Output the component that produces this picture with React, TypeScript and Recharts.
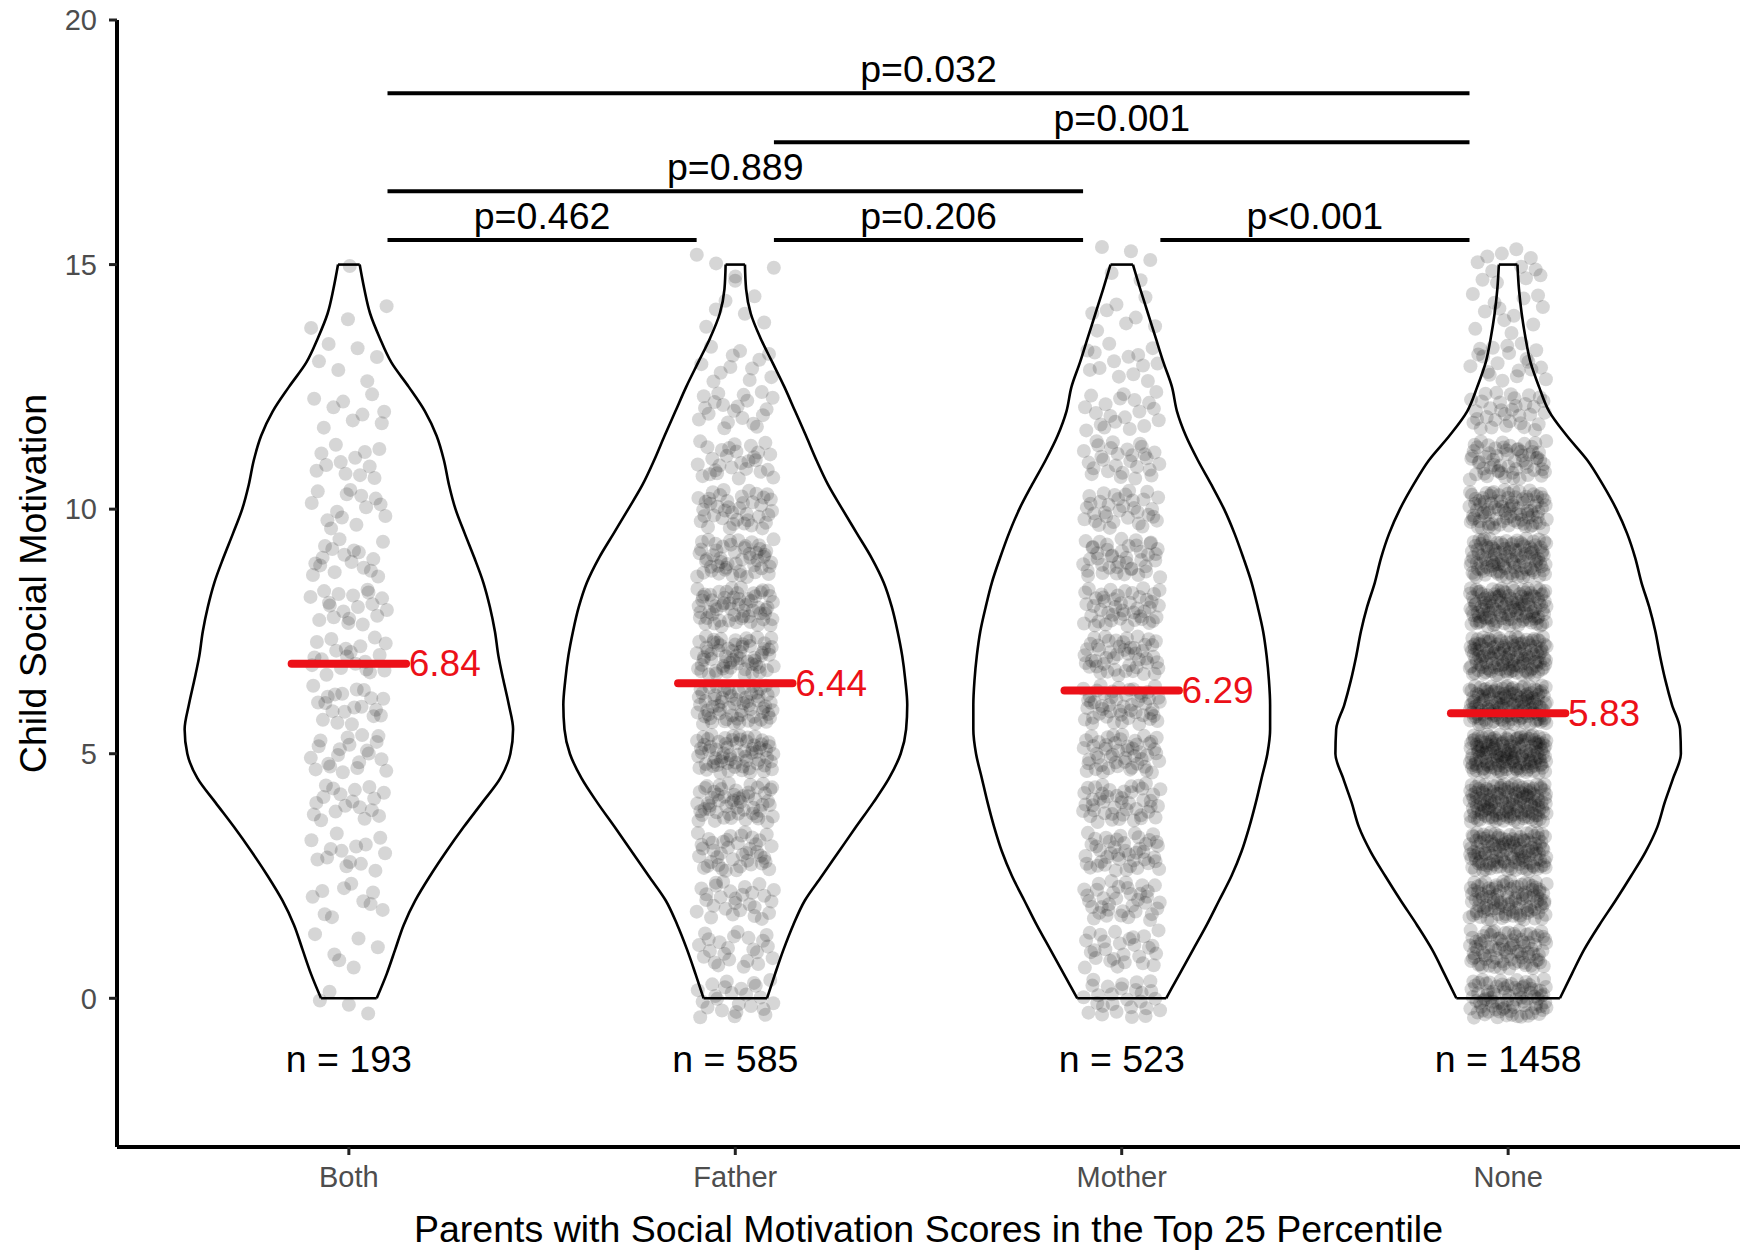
import React from "react";
import { ComposedChart, Scatter, XAxis, YAxis, Label } from "recharts";

// ── Groups ─────────────────────────────────────────────────────────────────────
const CATEGORIES = ["Both", "Father", "Mother", "None"];
const GROUP_N = [193, 585, 523, 1458];
const GROUP_MEANS = [6.84, 6.44, 6.29, 5.83];

// ── Child social motivation scores (0–15), number of children per score ───────
const SCORES = [0, 1, 2, 3, 4, 5, 6, 7, 8, 9, 10, 11, 12, 13, 14, 15];
const COUNTS_BOTH = [4, 6, 10, 14, 18, 20, 20, 20, 19, 17, 14, 12, 9, 6, 3, 1];
const COUNTS_FATHER = [24, 23, 28, 41, 55, 66, 65, 63, 59, 50, 40, 28, 20, 12, 6, 5];
const COUNTS_MOTHER = [27, 27, 36, 43, 45, 50, 50, 49, 46, 42, 33, 28, 20, 14, 8, 5];
const COUNTS_NONE = [84, 87, 104, 127, 144, 159, 148, 137, 127, 114, 90, 60, 33, 20, 12, 12];

// ── Violin outlines: half width (in category units) at each score level ───────
const VIOLIN_LEVELS = [
  0, 0.5, 1, 1.5, 2, 2.5, 3, 3.5, 4, 4.5, 5, 5.5, 6, 6.5, 7, 7.5, 8, 8.5, 9, 9.5,
  10, 10.5, 11, 11.5, 12, 12.5, 13, 13.5, 14, 14.5, 15,
];
const VIOLIN_BOTH = [
  0.072, 0.098, 0.12, 0.142, 0.172, 0.21, 0.252, 0.297, 0.345, 0.392, 0.418, 0.425,
  0.414, 0.4, 0.387, 0.378, 0.365, 0.348, 0.325, 0.3, 0.276, 0.259, 0.246, 0.227,
  0.197, 0.155, 0.11, 0.08, 0.055, 0.04, 0.028,
];
const VIOLIN_FATHER = [
  0.082, 0.103, 0.125, 0.15, 0.18, 0.224, 0.268, 0.312, 0.357, 0.398, 0.428, 0.442,
  0.445, 0.44, 0.432, 0.42, 0.405, 0.384, 0.353, 0.315, 0.277, 0.24, 0.21, 0.183,
  0.155, 0.127, 0.096, 0.065, 0.04, 0.028, 0.025,
];
const VIOLIN_MOTHER = [
  0.115, 0.15, 0.185, 0.22, 0.252, 0.284, 0.31, 0.33, 0.347, 0.362, 0.377, 0.384,
  0.384, 0.381, 0.375, 0.366, 0.352, 0.336, 0.315, 0.292, 0.265, 0.232, 0.197,
  0.166, 0.143, 0.13, 0.108, 0.088, 0.068, 0.048, 0.029,
];
const VIOLIN_NONE = [
  0.134, 0.165, 0.197, 0.236, 0.278, 0.318, 0.356, 0.386, 0.405, 0.427, 0.447,
  0.445, 0.424, 0.407, 0.393, 0.381, 0.365, 0.345, 0.329, 0.308, 0.28, 0.245, 0.205,
  0.152, 0.106, 0.08, 0.058, 0.045, 0.035, 0.028, 0.024,
];

// ── Pairwise comparisons ───────────────────────────────────────────────────────
const BRACKET_FROM = [1, 2, 3, 1, 2, 1];
const BRACKET_TO = [2, 3, 4, 3, 4, 4];
const BRACKET_Y = [15.5, 15.5, 15.5, 16.5, 17.5, 18.5];
const BRACKET_LABELS = ["p=0.462", "p=0.206", "p<0.001", "p=0.889", "p=0.001", "p=0.032"];

const Y_TICKS = [0, 5, 10, 15, 20];
const X_TICKS = [1, 2, 3, 4];

const COUNTS = [COUNTS_BOTH, COUNTS_FATHER, COUNTS_MOTHER, COUNTS_NONE];
const VIOLINS = [VIOLIN_BOTH, VIOLIN_FATHER, VIOLIN_MOTHER, VIOLIN_NONE];

const FONT = "'Liberation Sans', Arial, Helvetica, sans-serif";
const RED = "#ec1018";
const N_LABEL_Y = -1.25;
const MEAN_HALF = 0.148;
const BRACKET_INSET = 0.1;
const JITTER_W = 0.1;
const JITTER_H = 0.4;

// radical inverse, used for a deterministic (Halton) jitter layout
function halton(i: number, base: number) {
  let f = 1;
  let r = 0;
  while (i > 0) {
    f /= base;
    r += f * (i % base);
    i = Math.floor(i / base);
  }
  return r;
}

// spread each score's children around the integer value, like geom_jitter
function jitterCloud(g: number, counts: number[]) {
  const pts: { x: number; y: number }[] = [];
  let idx = 1 + g * 3001;
  counts.forEach((c, si) => {
    for (let k = 0; k < c; k++, idx++) {
      const u = halton(idx, 2);
      const w = halton(idx, 3);
      pts.push({ x: g + 1 + (2 * u - 1) * JITTER_W, y: SCORES[si] + (2 * w - 1) * JITTER_H });
    }
  });
  return pts;
}

function violinSide(g: number, widths: number[], sign: number) {
  return VIOLIN_LEVELS.map((lv, i) => ({ x: g + 1 + sign * widths[i], y: lv }));
}

function violinEdge(g: number, widths: number[], idx: number) {
  const lv = VIOLIN_LEVELS[idx];
  return [
    { x: g + 1 - widths[idx], y: lv },
    { x: g + 1 + widths[idx], y: lv },
  ];
}

const NoDot = () => <g />;
const JitterDot = (p: any) => (
  <circle cx={p.cx} cy={p.cy} r={7} fill="#000" fillOpacity={0.16} />
);
const MeanText = (p: any) => (
  <text x={p.cx} y={p.cy} dominantBaseline="central" fontSize={37} fontFamily={FONT} fill={RED}>
    {p.payload.label}
  </text>
);
const PText = (p: any) => (
  <text x={p.cx} y={p.cy - 11} textAnchor="middle" fontSize={37.5} fontFamily={FONT} fill="#000">
    {p.payload.label}
  </text>
);
const NText = (p: any) => (
  <text x={p.cx} y={p.cy} textAnchor="middle" dominantBaseline="central" fontSize={37.5} fontFamily={FONT} fill="#000">
    {p.payload.label}
  </text>
);

export default function App() {
  const line = { stroke: "#000", strokeWidth: 2.6 };

  const meanLabels = GROUP_MEANS.map((m, g) => ({
    x: g + 1 + MEAN_HALF + 0.007,
    y: m,
    label: m.toFixed(2),
  }));
  const pLabels = BRACKET_LABELS.map((label, i) => ({
    x: (BRACKET_FROM[i] + BRACKET_TO[i]) / 2,
    y: BRACKET_Y[i],
    label,
  }));
  const nLabels = GROUP_N.map((n, g) => ({ x: g + 1, y: N_LABEL_Y, label: `n = ${n}` }));

  return (
    <div style={{ position: "absolute", left: 0, top: 0, background: "#fff", fontFamily: FONT }}>
      <ComposedChart width={1753} height={1256} margin={{ top: 20, right: 13, bottom: 9, left: 0 }}>
        <XAxis
          type="number"
          dataKey="x"
          domain={[0.4, 4.6]}
          ticks={X_TICKS}
          allowDataOverflow
          interval={0}
          tickFormatter={(v: number) => CATEGORIES[v - 1]}
          height={100}
          axisLine={{ stroke: "#000", strokeWidth: 4 }}
          tickLine={{ stroke: "#222", strokeWidth: 3 }}
          tickSize={8}
          tickMargin={11}
          tick={{ fontSize: 29, fill: "#4d4d4d", fontFamily: FONT }}
        >
          <Label
            value="Parents with Social Motivation Scores in the Top 25 Percentile"
            position="insideBottom"
            offset={5}
            style={{ fontSize: 37.5, fill: "#000", fontFamily: FONT }}
          />
        </XAxis>
        <YAxis
          type="number"
          dataKey="y"
          domain={[-3.04, 20]}
          ticks={Y_TICKS}
          allowDataOverflow
          interval={0}
          width={117}
          axisLine={{ stroke: "#000", strokeWidth: 4 }}
          tickLine={{ stroke: "#222", strokeWidth: 3 }}
          tickSize={8}
          tickMargin={12}
          tick={{ fontSize: 29, fill: "#4d4d4d", fontFamily: FONT }}
        >
          <Label
            value="Child Social Motivation"
            angle={-90}
            position="insideLeft"
            offset={33}
            style={{ fontSize: 37.5, fill: "#000", fontFamily: FONT, textAnchor: "middle" }}
          />
        </YAxis>

        {/* violin outlines */}
        {VIOLINS.map((w, g) => (
          <Scatter key={`vl${g}`} data={violinSide(g, w, -1)} line={line} lineJointType="monotoneY" shape={NoDot} isAnimationActive={false} />
        ))}
        {VIOLINS.map((w, g) => (
          <Scatter key={`vr${g}`} data={violinSide(g, w, 1)} line={line} lineJointType="monotoneY" shape={NoDot} isAnimationActive={false} />
        ))}
        {VIOLINS.map((w, g) => (
          <Scatter key={`vb${g}`} data={violinEdge(g, w, 0)} line={line} shape={NoDot} isAnimationActive={false} />
        ))}
        {VIOLINS.map((w, g) => (
          <Scatter key={`vt${g}`} data={violinEdge(g, w, VIOLIN_LEVELS.length - 1)} line={line} shape={NoDot} isAnimationActive={false} />
        ))}

        {/* jittered observations */}
        {COUNTS.map((c, g) => (
          <Scatter key={`pts${g}`} data={jitterCloud(g, c)} shape={JitterDot} isAnimationActive={false} />
        ))}

        {/* group means */}
        {GROUP_MEANS.map((m, g) => (
          <Scatter
            key={`mean${g}`}
            data={[
              { x: g + 1 - MEAN_HALF, y: m },
              { x: g + 1 + MEAN_HALF, y: m },
            ]}
            line={{ stroke: RED, strokeWidth: 8, strokeLinecap: "round" }}
            shape={NoDot}
            isAnimationActive={false}
          />
        ))}
        <Scatter data={meanLabels} shape={MeanText} isAnimationActive={false} />

        {/* significance brackets */}
        {BRACKET_LABELS.map((_, i) => (
          <Scatter
            key={`br${i}`}
            data={[
              { x: BRACKET_FROM[i] + BRACKET_INSET, y: BRACKET_Y[i] },
              { x: BRACKET_TO[i] - BRACKET_INSET, y: BRACKET_Y[i] },
            ]}
            line={{ stroke: "#000", strokeWidth: 4 }}
            shape={NoDot}
            isAnimationActive={false}
          />
        ))}
        <Scatter data={pLabels} shape={PText} isAnimationActive={false} />

        {/* sample sizes */}
        <Scatter data={nLabels} shape={NText} isAnimationActive={false} />
      </ComposedChart>
    </div>
  );
}
